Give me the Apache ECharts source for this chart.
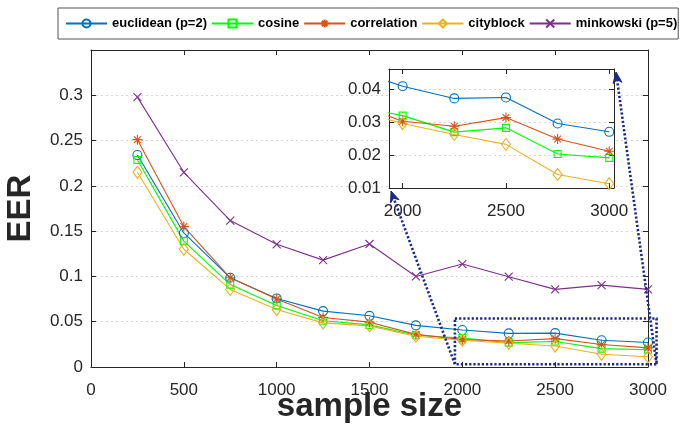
<!DOCTYPE html>
<html>
<head>
<meta charset="utf-8">
<script src="https://cdn.jsdelivr.net/npm/echarts@6/dist/echarts.min.js"></script>
<style>
html,body{margin:0;padding:0;background:#fff;}
#chart{width:681px;height:426px;}
</style>
</head>
<body>
<div id="chart"></div>
<script>
// ---- data ----
const sampleSizes = [250, 500, 750, 1000, 1250, 1500, 1750, 2000, 2250, 2500, 2750, 3000];
const seriesNames = ['euclidean (p=2)', 'cosine', 'correlation', 'cityblock', 'minkowski (p=5)'];
const euclidean   = [0.234, 0.148, 0.0985, 0.0757, 0.0617, 0.0565, 0.046, 0.0408, 0.0371, 0.0374, 0.0295, 0.0270];
const cosine      = [0.2285, 0.139, 0.091, 0.068, 0.051, 0.0465, 0.035, 0.0319, 0.0269, 0.0282, 0.0203, 0.0191];
const correlation = [0.251, 0.155, 0.0985, 0.075, 0.0547, 0.0495, 0.036, 0.0302, 0.0287, 0.0313, 0.0248, 0.0211];
const cityblock   = [0.215, 0.130, 0.0857, 0.0635, 0.0487, 0.0454, 0.034, 0.0295, 0.0262, 0.0232, 0.0141, 0.0113];
const minkowski   = [0.298, 0.215, 0.1617, 0.1355, 0.118, 0.1358, 0.100, 0.1137, 0.0997, 0.0857, 0.0904, 0.0857];
const mainXTicks = [0, 500, 1000, 1500, 2000, 2500, 3000];
const insetXTicks = [2000, 2500, 3000];
const insetXRange = [1934, 3023];
const insetYRange = [0.01, 0.046];
const zoomBoxX = [1960, 3046];
const zoomBoxY = [0.003, 0.0536];

// ---- styles ----
const FONT = '"Liberation Sans", Arial, Helvetica, sans-serif';
const AX = '#262626';
const NAVY = '#1b2a87';
const colors = ['#0072BD', '#00FF00', '#D95319', '#EDB120', '#7E2F8E'];
const symbols = [
  'circle',
  'rect',
  'path://M5,0L5,10M0,5L10,5M1.6,1.6L8.4,8.4M1.6,8.4L8.4,1.6',
  'diamond',
  'path://M0,0L10,10M0,10L10,0'
];
const symbolSizes = [9, 7, 10, [9, 12], 8];
const allValues = [euclidean, cosine, correlation, cityblock, minkowski];

function pairs(vals) { return sampleSizes.map((x, i) => [x, vals[i]]); }
function plain(v) { return String(+v.toFixed(6)); }

function mkSeries(i, xi, yi, z) {
  return {
    name: seriesNames[i],
    type: 'line',
    xAxisIndex: xi,
    yAxisIndex: yi,
    data: pairs(allValues[i]),
    symbol: symbols[i],
    symbolSize: symbolSizes[i],
    showAllSymbol: true,
    clip: true,
    z: z,
    lineStyle: { color: colors[i], width: 1.1 },
    itemStyle: { color: 'rgba(255,255,255,0)', borderColor: colors[i], borderWidth: 1.1 },
    emphasis: { disabled: true }
  };
}

function xAxisCfg(grid, pos, min, max, showLabels, extra) {
  return Object.assign({
    type: 'value', gridIndex: grid, position: pos, min: min, max: max,
    axisLine: { show: true, onZero: false, lineStyle: { color: AX, width: 1 } },
    axisTick: { show: true, inside: true, length: 5, lineStyle: { color: AX } },
    axisLabel: { show: showLabels, color: AX, fontSize: 17, fontFamily: FONT, margin: 15, formatter: plain },
    splitLine: { show: false }
  }, extra || {});
}
function yAxisCfg(grid, pos, min, max, showLabels, extra) {
  return Object.assign({
    type: 'value', gridIndex: grid, position: pos, min: min, max: max,
    axisLine: { show: true, onZero: false, lineStyle: { color: AX, width: 1 } },
    axisTick: { show: true, inside: true, length: 5, lineStyle: { color: AX } },
    axisLabel: { show: showLabels, color: AX, fontSize: 17, fontFamily: FONT, margin: 8, showMaxLabel: false, formatter: plain },
    splitLine: { show: false }
  }, extra || {});
}

const chart = echarts.init(document.getElementById('chart'), null, { renderer: 'canvas' });

const series = [];
for (let i = 0; i < 5; i++) series.push(mkSeries(i, 0, 0, 2));
for (let i = 0; i < 4; i++) series.push(mkSeries(i, 2, 2, 6));

const option = {
  animation: false,
  backgroundColor: '#fff',
  textStyle: { fontFamily: FONT },
  legend: {
    data: seriesNames,
    left: 58, top: 8, right: 0,
    padding: [9, 1, 9, 7],
    itemGap: 4,
    itemWidth: 41,
    itemHeight: 10,
    borderColor: '#555',
    borderWidth: 1,
    backgroundColor: '#fff',
    selectedMode: false,
    textStyle: { fontFamily: FONT, fontWeight: 'bold', fontSize: 13, color: '#000' }
  },
  grid: [
    { left: 91, right: 33, top: 50, bottom: 59, show: false, outerBoundsMode: 'none', containLabel: false },
    { left: 389, right: 67, top: 69, bottom: 238, show: true, backgroundColor: '#fff', borderWidth: 0, z: 4, outerBoundsMode: 'none', containLabel: false }
  ],
  xAxis: [
    xAxisCfg(0, 'bottom', mainXTicks[0], mainXTicks[mainXTicks.length - 1], true, {
      interval: 500,
      name: 'sample size', nameLocation: 'middle', nameGap: 23, nameMoveOverlap: false,
      nameTextStyle: { fontSize: 33, fontWeight: 'bold', color: AX, fontFamily: FONT }
    }),
    xAxisCfg(0, 'top', mainXTicks[0], mainXTicks[mainXTicks.length - 1], false, { interval: 500 }),
    xAxisCfg(1, 'bottom', insetXRange[0], insetXRange[1], true, {
      z: 5,
      axisTick: { show: true, inside: true, length: 5, lineStyle: { color: AX }, customValues: insetXTicks },
      axisLabel: { show: true, color: AX, fontSize: 17, fontFamily: FONT, margin: 15, customValues: insetXTicks, formatter: plain }
    }),
    xAxisCfg(1, 'top', insetXRange[0], insetXRange[1], false, {
      z: 5,
      axisTick: { show: true, inside: true, length: 5, lineStyle: { color: AX }, customValues: insetXTicks }
    })
  ],
  yAxis: [
    yAxisCfg(0, 'left', 0, 0.35, true, {
      interval: 0.05,
      splitLine: { show: true, lineStyle: { color: '#d4d4d4', type: [2, 3], width: 1 } },
      name: 'EER', nameLocation: 'middle', nameGap: 54, nameRotate: 90, nameMoveOverlap: false,
      nameTextStyle: { fontSize: 33, fontWeight: 'bold', color: AX, fontFamily: FONT }
    }),
    yAxisCfg(0, 'right', 0, 0.35, false, { interval: 0.05 }),
    yAxisCfg(1, 'left', insetYRange[0], insetYRange[1], true, {
      z: 5, interval: 0.01,
      splitLine: { show: true, lineStyle: { color: '#d4d4d4', type: [2, 3], width: 1 } }
    }),
    yAxisCfg(1, 'right', insetYRange[0], insetYRange[1], false, { z: 5, interval: 0.01 })
  ],
  series: series
};
chart.setOption(option);

// ---- zoom annotation (dotted box + arrows), positioned through the axes ----
function px(xi, yi, v) { return chart.convertToPixel({ xAxisIndex: xi, yAxisIndex: yi }, v); }
const bl = px(0, 0, [zoomBoxX[0], zoomBoxY[0]]);
const tr = px(0, 0, [zoomBoxX[1], zoomBoxY[1]]);
const iBL = px(2, 2, [insetXRange[0], insetYRange[0]]);
const iTR = px(2, 2, [insetXRange[1], insetYRange[1]]);
const brc = [tr[0], bl[1]];

const dotted = { fill: 'none', stroke: NAVY, lineWidth: 2.6, lineDash: [2.2, 2] };
function arrow(from, tip) {
  const dx = tip[0] - from[0], dy = tip[1] - from[1];
  const L = Math.sqrt(dx * dx + dy * dy);
  const ux = dx / L, uy = dy / L, nx = -uy, ny = ux;
  const len = 11, hw = 4.5;
  const bx = tip[0] - ux * len, by = tip[1] - uy * len;
  const nb = [tip[0] - ux * len * 0.7, tip[1] - uy * len * 0.7];
  return [
    { type: 'line', z: 20, shape: { x1: from[0], y1: from[1], x2: nb[0], y2: nb[1] }, style: dotted },
    { type: 'polygon', z: 21, shape: { points: [tip, [bx + nx * hw, by + ny * hw], nb, [bx - nx * hw, by - ny * hw]] },
      style: { fill: NAVY, stroke: NAVY, lineWidth: 1 } }
  ];
}
const elements = [
  { type: 'rect', z: 20, shape: { x: bl[0], y: tr[1], width: tr[0] - bl[0], height: bl[1] - tr[1] }, style: dotted }
].concat(arrow(bl, [iBL[0] + 2, iBL[1] + 3])).concat(arrow(brc, [iTR[0] + 2, iTR[1] + 3]));
chart.setOption({ graphic: { elements: elements } });
</script>
</body>
</html>
